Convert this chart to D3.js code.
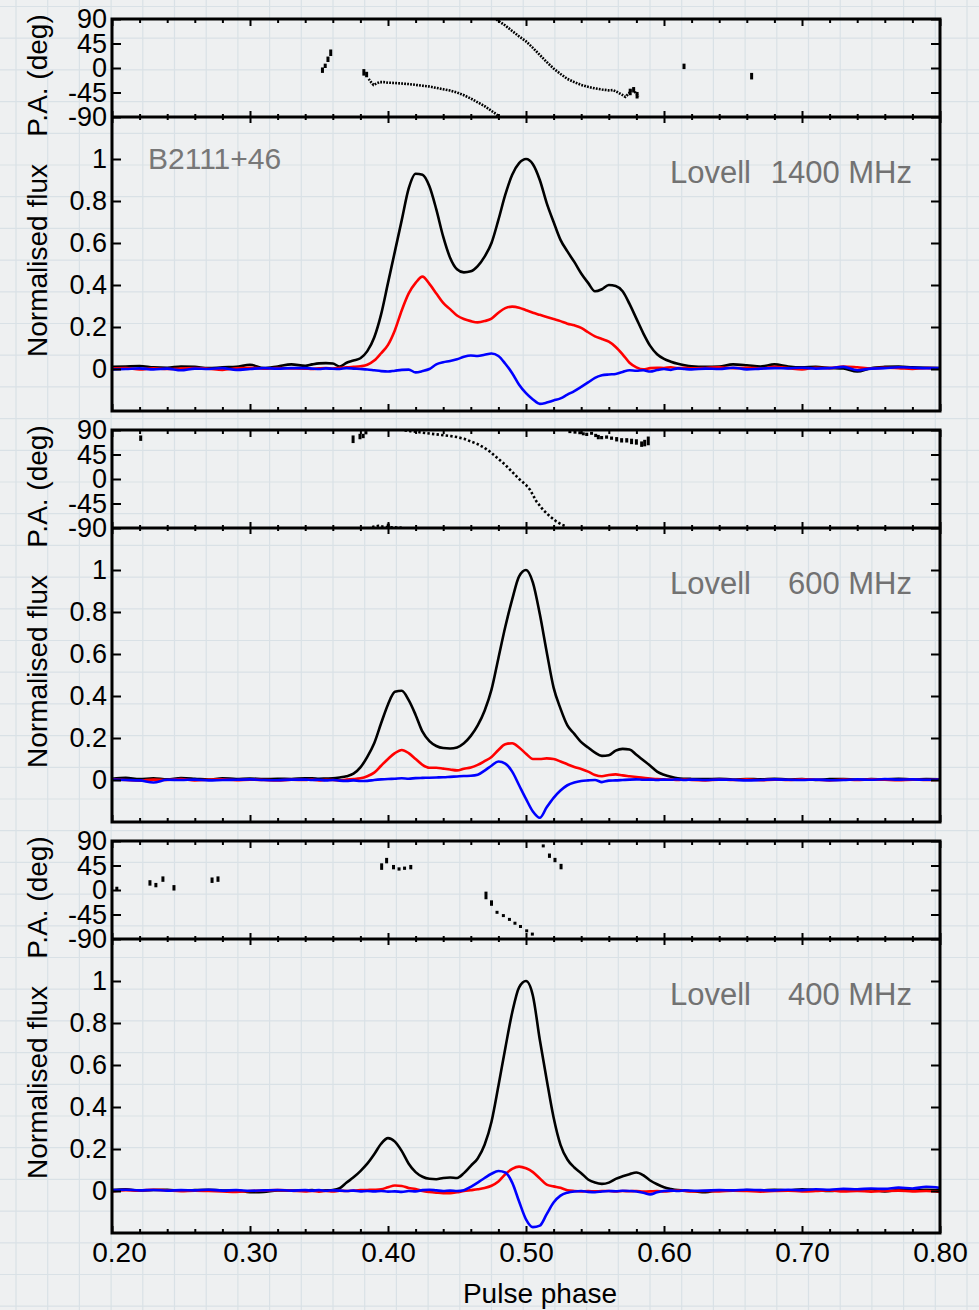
<!DOCTYPE html>
<html>
<head>
<meta charset="utf-8">
<script src="https://cdn.jsdelivr.net/npm/d3@7"></script>
<style>
  html, body { margin: 0; padding: 0; background: #eef0f1; }
  svg { display: block; font-family: "Liberation Sans", Arial, Helvetica, sans-serif; }
</style>
</head>
<body>
<svg id="chart" width="979" height="1310"></svg>
<script>
// ---- Pulse phase grid shared by all three profiles ----
const phase = [
  0.20,0.21,0.22,0.23,0.24,0.25,0.26,0.27,0.28,0.29,0.30,0.31,0.32,0.33,
  0.340,0.345,0.350,0.355,0.360,0.365,0.370,0.375,0.380,0.385,0.390,0.395,0.400,0.405,0.410,0.415,0.420,0.425,0.430,0.435,0.440,0.445,0.450,0.455,0.460,0.465,0.470,0.475,0.480,0.485,0.490,0.495,0.500,0.505,0.510,0.515,0.520,0.525,0.530,0.535,0.540,0.545,0.550,0.555,0.560,0.565,0.570,0.575,0.580,0.585,0.590,0.595,0.600,0.605,0.610,0.615,0.620,
  0.63,0.64,0.65,0.66,0.67,0.68,0.69,0.70,0.71,0.72,0.73,0.74,0.75,0.76,0.77,0.78,0.79,0.80
];

// ---- 1400 MHz: total intensity (I), linear (L), circular (V) ----
const I1400 = [
  0.010,0.012,0.014,0.008,0.006,0.012,0.010,0.004,0.008,0.010,0.020,0.004,0.012,0.022,
  0.015,0.022,0.027,0.028,0.026,0.012,0.030,0.040,0.051,0.085,0.150,0.260,0.410,0.560,0.710,0.860,0.930,0.925,0.870,0.760,0.630,0.530,0.475,0.460,0.465,0.490,0.535,0.600,0.710,0.830,0.925,0.980,1.000,0.975,0.900,0.790,0.700,0.615,0.560,0.510,0.455,0.410,0.370,0.380,0.400,0.395,0.370,0.310,0.240,0.170,0.110,0.070,0.048,0.035,0.025,0.018,0.013,
  0.010,0.012,0.022,0.018,0.012,0.022,0.012,0.008,0.010,0.005,0.002,-0.012,0.004,0.010,0.012,0.008,0.006,0.005
];
const L1400 = [
  0.002,0.004,-0.002,0.003,0.000,0.002,0.004,0.001,-0.004,0.003,0.006,0.002,0.004,0.003,
  0.002,0.000,0.003,0.005,0.002,0.006,0.008,0.010,0.013,0.020,0.040,0.075,0.115,0.185,0.280,0.360,0.410,0.440,0.405,0.360,0.315,0.285,0.255,0.238,0.228,0.222,0.228,0.240,0.268,0.290,0.297,0.292,0.280,0.268,0.258,0.248,0.238,0.228,0.216,0.208,0.196,0.175,0.155,0.143,0.130,0.105,0.070,0.030,0.008,-0.002,0.004,0.006,0.005,0.008,0.004,0.006,0.003,
  0.005,0.008,0.004,0.006,0.002,0.010,0.004,-0.002,0.006,0.004,0.012,0.008,0.002,0.006,0.004,0.000,0.004,0.003
];
const V1400 = [
  -0.002,0.000,0.003,-0.002,0.002,-0.006,0.002,0.000,0.004,-0.004,0.000,0.004,0.002,0.004,
  0.004,0.002,0.000,0.003,0.001,0.000,0.004,0.002,0.000,-0.002,-0.006,-0.010,-0.012,-0.008,-0.004,-0.003,-0.016,-0.010,0.000,0.022,0.032,0.038,0.046,0.058,0.064,0.062,0.068,0.074,0.062,0.025,-0.020,-0.075,-0.115,-0.145,-0.166,-0.160,-0.150,-0.140,-0.122,-0.105,-0.085,-0.064,-0.042,-0.030,-0.026,-0.024,-0.014,-0.006,-0.008,-0.006,-0.012,-0.005,0.000,-0.004,0.003,0.000,-0.002,
  0.002,0.000,0.006,-0.002,0.002,0.004,0.003,0.006,0.002,0.004,0.010,-0.006,0.002,0.004,0.008,0.006,0.004,0.004
];

// ---- 600 MHz ----
const I600 = [
  0.006,0.010,0.004,0.008,0.003,0.009,0.006,0.002,0.008,0.005,0.007,0.004,0.006,0.005,
  0.008,0.008,0.006,0.007,0.008,0.012,0.018,0.030,0.060,0.110,0.175,0.270,0.360,0.420,0.425,0.380,0.310,0.230,0.185,0.162,0.152,0.150,0.155,0.175,0.210,0.260,0.330,0.430,0.580,0.730,0.860,0.970,1.000,0.940,0.790,0.610,0.440,0.340,0.260,0.220,0.180,0.155,0.130,0.115,0.118,0.140,0.148,0.145,0.120,0.094,0.068,0.040,0.025,0.015,0.008,0.006,0.005,
  0.004,0.006,0.002,0.005,0.003,0.006,0.002,0.004,0.000,0.004,0.005,0.001,0.004,0.003,0.006,0.002,0.004,0.003
];
const L600 = [
  0.003,0.000,-0.003,0.002,0.000,0.004,-0.002,0.001,0.003,-0.001,0.002,0.000,-0.002,0.001,
  0.000,0.002,-0.002,0.001,0.000,-0.002,0.002,0.004,0.008,0.018,0.035,0.068,0.100,0.128,0.143,0.128,0.100,0.072,0.058,0.058,0.054,0.050,0.046,0.054,0.060,0.072,0.090,0.110,0.143,0.170,0.175,0.155,0.125,0.100,0.100,0.103,0.100,0.088,0.075,0.062,0.052,0.040,0.024,0.018,0.024,0.027,0.022,0.018,0.014,0.010,0.007,0.004,0.003,0.002,0.000,0.002,0.000,
  -0.002,0.002,0.000,0.003,-0.001,0.002,0.000,0.003,0.001,-0.002,0.002,0.000,0.003,0.001,-0.001,0.002,0.000,0.002
];
const V600 = [
  0.002,0.000,-0.002,-0.012,0.001,0.000,0.002,-0.002,0.000,0.001,0.003,0.000,-0.001,0.002,
  0.002,0.000,0.001,-0.002,0.000,-0.003,-0.004,-0.002,-0.005,-0.004,0.000,0.003,0.005,0.006,0.008,0.006,0.009,0.010,0.011,0.012,0.013,0.015,0.017,0.019,0.020,0.025,0.045,0.068,0.088,0.078,0.040,-0.025,-0.090,-0.150,-0.180,-0.130,-0.085,-0.050,-0.025,-0.012,-0.005,-0.002,0.000,-0.010,-0.003,-0.002,0.000,0.002,0.003,0.001,0.002,0.000,0.002,0.001,0.003,0.000,0.002,
  0.000,0.002,0.001,-0.002,0.000,0.003,0.001,0.000,0.002,-0.001,0.000,0.003,0.001,0.004,0.002,0.003,0.001,0.002
];

// ---- 400 MHz ----
const I400 = [
  0.004,0.008,0.002,0.005,0.006,0.001,0.004,0.006,0.002,0.003,-0.006,-0.004,0.003,0.002,
  0.002,0.004,0.000,0.003,0.005,0.013,0.040,0.065,0.095,0.130,0.175,0.225,0.252,0.235,0.190,0.130,0.090,0.068,0.058,0.056,0.062,0.064,0.062,0.085,0.120,0.155,0.220,0.330,0.500,0.680,0.850,0.970,1.000,0.930,0.720,0.530,0.350,0.220,0.150,0.112,0.085,0.055,0.040,0.034,0.040,0.058,0.070,0.080,0.088,0.075,0.050,0.032,0.018,0.010,0.004,0.001,0.000,
  -0.006,0.003,0.001,0.004,0.002,0.006,0.003,0.008,0.004,0.000,0.006,0.004,0.008,-0.002,0.005,0.003,0.006,0.004
];
const L400 = [
  -0.002,0.004,0.002,0.006,0.003,-0.001,0.002,0.000,-0.002,-0.004,0.000,0.002,0.004,0.002,
  -0.002,0.000,-0.003,0.000,-0.002,0.001,0.000,0.002,0.004,0.005,0.006,0.008,0.018,0.026,0.024,0.014,0.010,0.000,-0.005,-0.008,-0.010,-0.010,-0.006,0.000,0.004,0.008,0.014,0.025,0.045,0.080,0.105,0.116,0.108,0.090,0.060,0.030,0.022,0.015,0.004,0.000,-0.002,0.000,-0.002,0.000,0.000,-0.002,0.000,-0.001,0.000,-0.003,-0.002,0.000,-0.002,0.000,0.002,0.000,-0.002,
  0.000,-0.002,0.002,0.000,-0.003,0.000,0.002,-0.002,0.000,0.003,-0.002,0.000,-0.003,0.000,0.002,-0.002,0.000,-0.004
];
const V400 = [
  0.004,0.006,0.003,0.005,0.002,0.004,0.003,0.006,0.002,0.004,0.001,0.003,0.005,0.002,
  0.004,0.002,0.004,0.001,0.003,0.002,0.000,0.002,-0.002,0.000,-0.002,0.000,-0.003,-0.002,-0.004,0.000,-0.002,0.004,0.006,0.003,0.000,0.002,0.000,0.004,0.020,0.040,0.062,0.082,0.095,0.088,0.040,-0.050,-0.135,-0.172,-0.165,-0.110,-0.055,-0.022,-0.008,-0.002,0.000,-0.004,-0.006,-0.002,0.000,-0.001,0.001,0.000,-0.002,-0.008,-0.016,-0.006,0.000,0.002,0.000,0.003,0.001,
  0.002,0.004,0.003,0.006,0.004,0.003,0.006,0.004,0.008,0.006,0.010,0.008,0.012,0.010,0.016,0.012,0.020,0.015
];

// ---- Position angle: isolated points [phase, deg, error] and dense swing segments [phase, deg] ----
const paDots1400 = [
  [0.3525,-4,5],[0.3545,4,4],[0.3565,16,5],[0.3585,28,6],[0.3825,-8,6],[0.3845,-12,5],
  [0.5755,-44,6],[0.578,-40,5],[0.5805,-50,6],[0.6145,3,5],[0.6635,-15,6]
];
const paSwing1400a = [
  [0.386,-20],[0.388,-27],[0.3895,-31],[0.392,-28],[0.394,-26],[0.397,-26],[0.400,-27],[0.405,-27.5],
  [0.410,-28.5],[0.415,-29.5],[0.420,-31],[0.425,-32.5],[0.430,-34],[0.435,-36.5],[0.440,-39],[0.445,-41.5],
  [0.450,-45],[0.455,-50],[0.460,-56],[0.465,-63],[0.470,-70],[0.474,-77],[0.478,-84],[0.4805,-89]
];
const paSwing1400b = [
  [0.4785,89],[0.481,85],[0.485,78],[0.490,68],[0.495,58],[0.500,49],[0.505,37],[0.510,24],[0.515,11],
  [0.520,-1],[0.525,-11],[0.530,-20],[0.535,-26],[0.540,-31],[0.545,-34.5],[0.550,-37.5],[0.555,-39.5],
  [0.560,-41],[0.563,-40.5],[0.566,-44],[0.5695,-49],[0.572,-53],[0.5745,-47],[0.576,-41],[0.578,-40],
  [0.5795,-46],[0.5815,-53]
];

const paDots600 = [
  [0.2208,75,5],[0.3747,73,7],[0.3797,78,5],[0.382,79,4],[0.384,85,3],[0.4002,-87,5],
  [0.5318,87,2],[0.5355,86,2],[0.539,85,2],[0.5415,83,2],[0.544,82,3],[0.5475,84,2],[0.5505,80,3],
  [0.5524,77,4],[0.5548,76,3],[0.5584,77,3],[0.562,75,3],[0.5657,73,4],[0.5693,71,4],[0.573,71,4],
  [0.5765,69,5],[0.580,68,5],[0.5838,64,5],[0.586,66,6],[0.5886,70,8]
];
const paSwing600a = [
  [0.412,89],[0.416,88],[0.420,87],[0.425,85],[0.430,83.5],[0.435,82],[0.440,80.5],[0.445,79],[0.450,77],
  [0.455,74],[0.460,69],[0.465,64],[0.470,57],[0.474,50],[0.480,37],[0.485,26],[0.490,13],[0.495,0],
  [0.500,-11],[0.503,-20],[0.5075,-41],[0.5125,-57],[0.5175,-69],[0.522,-78],[0.526,-84],[0.5295,-87]
];
const paSwing600b = [
  [0.3885,-88],[0.391,-87],[0.393,-86],[0.395,-87],[0.398,-88],[0.402,-88.5],[0.406,-89],[0.410,-89.5]
];

const paDots400 = [
  [0.2035,2,4],[0.2275,13,5],[0.2318,9,4],[0.2369,20,5],[0.2449,4,5],[0.2725,18,5],[0.2768,20,5],
  [0.3954,43,6],[0.399,54,5],[0.404,42,4],[0.408,38.6,3],[0.412,40,3],[0.4165,42,4],
  [0.471,-10,7],[0.475,-24,5],[0.479,-41,2],[0.4836,-47,2],[0.488,-54,2],[0.492,-61,2],[0.496,-67,2],
  [0.5005,-75,2],[0.5046,-81,2],[0.5125,81,2],[0.517,63,4],[0.521,55,4],[0.5254,43,5]
];

// ---- Axis ticks and labels ----
const phaseMajor = [0.2,0.3,0.4,0.5,0.6,0.7,0.8];
const phaseMajorLabels = ["0.20","0.30","0.40","0.50","0.60","0.70","0.80"];
const phaseMinor = [0.22,0.24,0.26,0.28,0.32,0.34,0.36,0.38,0.42,0.44,0.46,0.48,0.52,0.54,0.56,0.58,0.62,0.64,0.66,0.68,0.72,0.74,0.76,0.78];
const paTicks = [90,45,0,-45,-90];
const fluxTicks = [0,0.2,0.4,0.6,0.8,1];
const fluxTickLabels = ["0","0.2","0.4","0.6","0.8","1"];

const pulsar = "B2111+46";
const telescope = "Lovell";
const frequencies = ["1400 MHz","600 MHz","400 MHz"];

// ---- Layout ----
const W = 979, H = 1310;
const left = 112, right = 940;
const panelTops = [19, 430, 841];
const paH = 98, fluxH = 294;

const svg = d3.select("#chart");

// Graph-paper backdrop
const bg = svg.append("g");
bg.append("rect").attr("width", W).attr("height", H).attr("fill", "#eef0f1");
const gridStep = 31.7;
for (let gx = 16; gx < W; gx += gridStep) {
  bg.append("line").attr("x1", gx).attr("x2", gx).attr("y1", 0).attr("y2", H)
    .attr("stroke", "#d9e1e6").attr("stroke-width", 1.2);
}
for (let gy = 6.5; gy < H; gy += gridStep) {
  bg.append("line").attr("y1", gy).attr("y2", gy).attr("x1", 0).attr("x2", W)
    .attr("stroke", "#d9e1e6").attr("stroke-width", 1.2);
}

const x = d3.scaleLinear().domain([0.2, 0.8]).range([left, right]);

const panels = [
  { I: I1400, L: L1400, V: V1400, dots: paDots1400, swings: [paSwing1400a, paSwing1400b], dash: "1.8,1.2" },
  { I: I600,  L: L600,  V: V600,  dots: paDots600,  swings: [paSwing600a, paSwing600b],  dash: "2.4,2.2" },
  { I: I400,  L: L400,  V: V400,  dots: paDots400,  swings: [],                          dash: "2.4,2.2" }
];

function styleAxis(g, size) {
  g.select(".domain").remove();
  g.selectAll(".tick line").attr("stroke", "#000").attr("stroke-width", 2);
  g.selectAll(".tick text").attr("fill", "#000").attr("font-size", size || 27)
    .attr("font-family", '"Liberation Sans", Arial, Helvetica, sans-serif');
}

panels.forEach((p, i) => {
  const T = panelTops[i];
  const yPA = d3.scaleLinear().domain([-90, 90]).range([T + paH, T]);
  const yF = d3.scaleLinear().domain([-0.2, 1.2]).range([T + paH + fluxH, T + paH]);
  const g = svg.append("g");

  // clip regions
  const clipPA = `clipPA${i}`, clipF = `clipF${i}`;
  const defs = svg.append("defs");
  defs.append("clipPath").attr("id", clipPA).append("rect")
    .attr("x", left).attr("y", T).attr("width", right - left).attr("height", paH);
  defs.append("clipPath").attr("id", clipF).append("rect")
    .attr("x", left).attr("y", T + paH).attr("width", right - left).attr("height", fluxH);

  // ---- flux profiles ----
  const series = [
    { v: p.I, color: "#000000" },
    { v: p.L, color: "#ff0000" },
    { v: p.V, color: "#0000ff" }
  ];
  const line = d3.line().curve(d3.curveMonotoneX);
  const fg = g.append("g").attr("clip-path", `url(#${clipF})`);
  series.forEach(s => {
    line.x((d, k) => x(phase[k])).y(d => yF(d));
    fg.append("path").datum(s.v).attr("d", line)
      .attr("fill", "none").attr("stroke", s.color).attr("stroke-width", 2.6)
      .attr("stroke-linejoin", "round");
  });

  // ---- position angle ----
  const pg = g.append("g").attr("clip-path", `url(#${clipPA})`);
  const paLine = d3.line().x(d => x(d[0])).y(d => yPA(d[1]));
  p.swings.forEach(sw => {
    pg.append("path").datum(sw).attr("d", paLine)
      .attr("fill", "none").attr("stroke", "#000").attr("stroke-width", 2.6)
      .attr("stroke-dasharray", p.dash);
  });
  const pxPerDeg = paH / 180;
  pg.selectAll("rect.pa").data(p.dots).enter().append("rect")
    .attr("class", "pa")
    .attr("x", d => x(d[0]) - 1.5)
    .attr("width", 3)
    .attr("y", d => yPA(d[1]) - Math.max(1.5, d[2] * pxPerDeg))
    .attr("height", d => Math.max(3, 2 * d[2] * pxPerDeg))
    .attr("fill", "#000");

  // ---- axes ----
  // left labels
  g.append("g").attr("transform", `translate(${left},0)`)
    .call(d3.axisLeft(yPA).tickValues(paTicks).tickSize(-9).tickPadding(5).tickFormat(d => String(d)))
    .call(styleAxis);
  g.append("g").attr("transform", `translate(${left},0)`)
    .call(d3.axisLeft(yF).tickValues(fluxTicks).tickSize(-9).tickPadding(5)
      .tickFormat((d, k) => fluxTickLabels[k]))
    .call(styleAxis);
  // right ticks
  g.append("g").attr("transform", `translate(${right},0)`)
    .call(d3.axisRight(yPA).tickValues(paTicks).tickSize(-9).tickFormat(""))
    .call(styleAxis);
  g.append("g").attr("transform", `translate(${right},0)`)
    .call(d3.axisRight(yF).tickValues(fluxTicks).tickSize(-9).tickFormat(""))
    .call(styleAxis);

  // phase ticks: top of PA box, the PA/flux divide, and bottom of flux box
  const tickSets = [
    { y: T, axis: d3.axisBottom, maj: 7, min: 4 },
    { y: T + paH, axis: d3.axisTop, maj: 6, min: 3 },
    { y: T + paH, axis: d3.axisBottom, maj: 6, min: 3 },
    { y: T + paH + fluxH, axis: d3.axisTop, maj: 7, min: 4 }
  ];
  tickSets.forEach(ts => {
    g.append("g").attr("transform", `translate(0,${ts.y})`)
      .call(ts.axis(x).tickValues(phaseMajor).tickSize(ts.maj).tickFormat(""))
      .call(styleAxis);
    g.append("g").attr("transform", `translate(0,${ts.y})`)
      .call(ts.axis(x).tickValues(phaseMinor).tickSize(ts.min).tickFormat(""))
      .call(styleAxis);
  });

  // frame
  g.append("rect").attr("x", left).attr("y", T).attr("width", right - left).attr("height", paH + fluxH)
    .attr("fill", "none").attr("stroke", "#000").attr("stroke-width", 3);
  g.append("line").attr("x1", left).attr("x2", right).attr("y1", T + paH).attr("y2", T + paH)
    .attr("stroke", "#000").attr("stroke-width", 3);

  // axis titles
  g.append("text").attr("transform", `translate(47,${T + 56.5}) rotate(-90)`)
    .attr("text-anchor", "middle").attr("font-size", 28).attr("fill", "#000").text("P.A. (deg)");
  g.append("text").attr("transform", `translate(47,${T + 241.5}) rotate(-90)`)
    .attr("text-anchor", "middle").attr("font-size", 28).attr("fill", "#000").text("Normalised flux");

  // in-panel annotations
  g.append("text").attr("x", 670).attr("y", T + 164).attr("font-size", 31).attr("fill", "#727272")
    .text(telescope);
  g.append("text").attr("x", 912).attr("y", T + 164).attr("text-anchor", "end")
    .attr("font-size", 31).attr("fill", "#727272").text(frequencies[i]);
  if (i === 0) {
    g.append("text").attr("x", 148).attr("y", T + 150).attr("font-size", 30).attr("fill", "#777777")
      .text(pulsar);
  }

  // phase labels under the last panel
  if (i === panels.length - 1) {
    const lab = g.append("g").attr("transform", `translate(0,${T + paH + fluxH})`)
      .call(d3.axisBottom(x).tickValues(phaseMajor).tickSize(0).tickPadding(9)
        .tickFormat((d, k) => phaseMajorLabels[k]))
      .call(styleAxis, 28);
    // nudge the first label clear of the y axis
    lab.selectAll(".tick text").filter((d, k) => k === 0).attr("dx", 7);
    g.append("text").attr("x", 540).attr("y", 1303).attr("text-anchor", "middle")
      .attr("font-size", 28).attr("fill", "#000").text("Pulse phase");
  }
});
</script>
</body>
</html>
